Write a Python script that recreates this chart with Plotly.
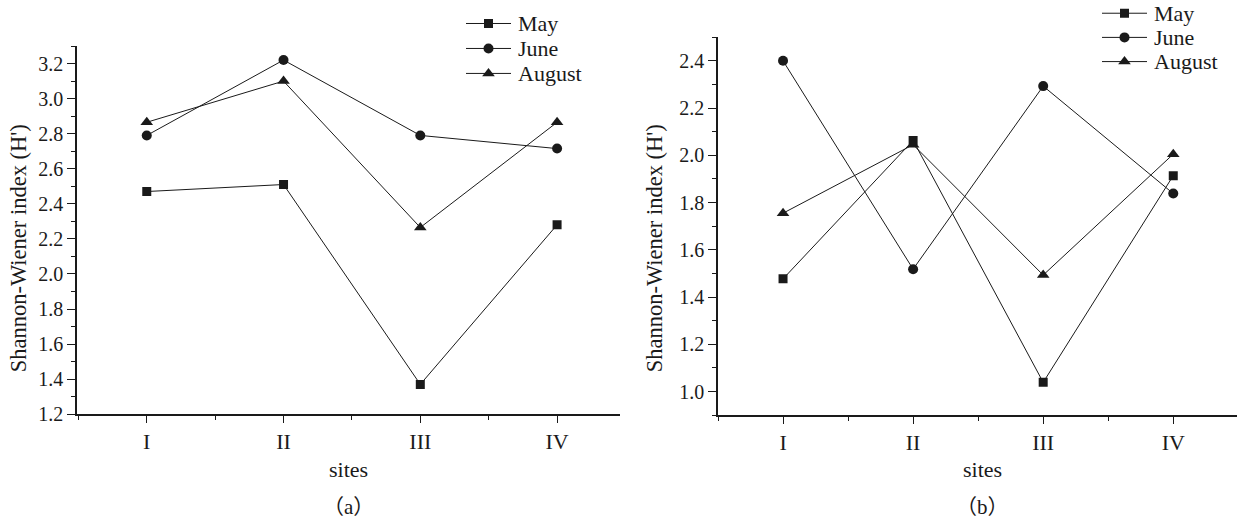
import plotly.graph_objects as go

sites = ["I", "II", "III", "IV"]
months = ["May", "June", "August"]
symbols = ["square", "circle", "triangle-up"]
sizes = [9, 10, 11]
y_title = "Shannon-Wiener index (H')"
x_title = "sites"
panel_labels = ["a", "b"]

# panel (a)
a_may = [2.47, 2.51, 1.37, 2.28]
a_june = [2.79, 3.22, 2.79, 2.715]
a_aug = [2.865, 3.10, 2.265, 2.865]

# panel (b)
b_may = [1.477, 2.063, 1.039, 1.914]
b_june = [2.40, 1.518, 2.293, 1.838]
b_aug = [1.755, 2.045, 1.493, 2.005]

xpos = list(range(1, len(sites) + 1))
FONT = "Liberation Serif"
INK = "#1a1a1a"
W, H = 1240, 528

fig = go.Figure()

panels = [("x", "y", [a_may, a_june, a_aug]), ("x2", "y2", [b_may, b_june, b_aug])]
for xa, ya, series in panels:
    for vals, name, sym, sz in zip(series, months, symbols, sizes):
        fig.add_trace(go.Scatter(x=xpos, y=vals, mode="lines+markers", name=name,
                                 line=dict(color=INK, width=1),
                                 marker=dict(symbol=sym, size=sz, color=INK),
                                 xaxis=xa, yaxis=ya, showlegend=False))

# legend boxes drawn as small hidden subplots (x3/y3 for panel a, x4/y4 for panel b)
legend_axes = [("x3", "y3"), ("x4", "y4")]
for xa, ya in legend_axes:
    for i, (name, sym, sz) in enumerate(zip(months, symbols, sizes)):
        fig.add_trace(go.Scatter(x=[0, 1], y=[-i, -i], mode="lines",
                                 line=dict(color=INK, width=1), xaxis=xa, yaxis=ya,
                                 showlegend=False, hoverinfo="skip"))
        fig.add_trace(go.Scatter(x=[0.5], y=[-i], mode="markers",
                                 marker=dict(symbol=sym, size=sz, color=INK),
                                 xaxis=xa, yaxis=ya, showlegend=False, hoverinfo="skip"))
        fig.add_annotation(x=1.1, y=-i, xref=xa, yref=ya, text=name, showarrow=False,
                           xanchor="left", yanchor="middle",
                           font=dict(family=FONT, size=22, color=INK))


def px_dom_x(a, b):
    return [a / W, b / W]


def px_dom_y(top, bottom):
    return [(H - bottom) / H, (H - top) / H]


def xaxis(domain, anchor, rng):
    return dict(domain=domain, anchor=anchor, range=rng, tickvals=xpos, ticktext=sites,
                showline=True, linecolor=INK, linewidth=1.5, ticks="outside", ticklen=7,
                tickcolor=INK, tickwidth=1.2, showgrid=False, zeroline=False,
                tickfont=dict(family=FONT, size=22, color=INK),
                minor=dict(ticks="outside", ticklen=4, tickcolor=INK, tickwidth=1.2,
                           dtick=0.5, tick0=0.5, showgrid=False))


def yaxis(domain, anchor, rng, dtick):
    return dict(domain=domain, anchor=anchor, range=rng, dtick=dtick, tickformat=".1f",
                showline=True, linecolor=INK, linewidth=1.5, ticks="outside", ticklen=8,
                tickcolor=INK, tickwidth=1.2, showgrid=False, zeroline=False,
                tickfont=dict(family=FONT, size=20, color=INK),
                minor=dict(ticks="outside", ticklen=4, tickcolor=INK, tickwidth=1.2,
                           dtick=dtick / 2, showgrid=False))


def hidden(domain, rng, anchor):
    return dict(domain=domain, range=rng, visible=False, fixedrange=True, anchor=anchor)


fig.update_layout(
    width=W, height=H,
    margin=dict(l=0, r=0, t=0, b=0),
    paper_bgcolor="white", plot_bgcolor="white",
    font=dict(family=FONT, color=INK),
    showlegend=False,
    xaxis=xaxis(px_dom_x(77, 620), "y", [0.49, 4.46]),
    yaxis=yaxis(px_dom_y(47, 423), "x", [1.2, 3.3], 0.2),
    xaxis2=xaxis(px_dom_x(718, 1237), "y2", [0.5, 4.49]),
    yaxis2=yaxis(px_dom_y(38, 424), "x2", [0.9, 2.5], 0.2),
    # legend subplot (a): line 466-511 px, rows at 24/49.5/75 px
    xaxis3=hidden(px_dom_x(466, 620), [0, 154 / 45], "y3"),
    yaxis3=hidden(px_dom_y(4, 94), [-(94 - 24) / 25.5, (24 - 4) / 25.5], "x3"),
    # legend subplot (b): line 1102-1147 px, rows at 13.5/38.5/63 px
    xaxis4=hidden(px_dom_x(1102, 1240), [0, 138 / 45], "y4"),
    yaxis4=hidden(px_dom_y(0, 90), [-(90 - 13.5) / 24.7, 13.5 / 24.7], "x4"),
)

# axis titles and panel labels
for title_x, cx, lbl in [(18, 348, panel_labels[0]), (654, 982, panel_labels[1])]:
    fig.add_annotation(x=title_x / W, y=(H - 253.5) / H, xref="paper", yref="paper",
                       text=y_title, textangle=-90, showarrow=False,
                       xanchor="center", yanchor="middle",
                       font=dict(family=FONT, size=22.5, color=INK))
    fig.add_annotation(x=cx / W, y=(H - 479) / H, xref="paper", yref="paper", text=x_title,
                       showarrow=False, xanchor="center", yanchor="middle",
                       font=dict(family=FONT, size=22, color=INK))
    fig.add_annotation(x=cx / W, y=(H - 518) / H, xref="paper", yref="paper",
                       text=f"（{lbl}）",
                       showarrow=False, xanchor="center", yanchor="middle",
                       font=dict(family="'Liberation Serif', 'Noto Sans CJK SC'", size=21,
                                 color=INK))

fig.write_html("out.html", config={"displayModeBar": False},
               post_script="document.body.style.margin='0';document.body.style.padding='0';")
